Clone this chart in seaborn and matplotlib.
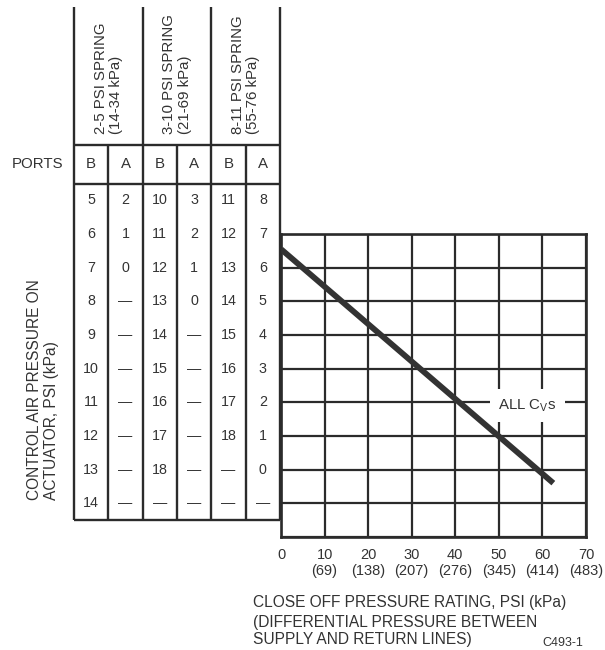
import matplotlib
matplotlib.use("Agg")
import matplotlib.pyplot as plt
import seaborn as sns
import pandas as pd

# Table headers
spring_labels = ["2-5 PSI SPRING\n(14-34 kPa)",
                 "3-10 PSI SPRING\n(21-69 kPa)",
                 "8-11 PSI SPRING\n(55-76 kPa)"]
port_labels = ["B", "A", "B", "A", "B", "A"]

# Control air pressure on actuator (psi) per spring / port, "—" = n/a
spring_2_5_b = ["5", "6", "7", "8", "9", "10", "11", "12", "13", "14"]
spring_2_5_a = ["2", "1", "0", "—", "—", "—", "—", "—", "—", "—"]
spring_3_10_b = ["10", "11", "12", "13", "14", "15", "16", "17", "18", "—"]
spring_3_10_a = ["3", "2", "1", "0", "—", "—", "—", "—", "—", "—"]
spring_8_11_b = ["11", "12", "13", "14", "15", "16", "17", "18", "—", "—"]
spring_8_11_a = ["8", "7", "6", "5", "4", "3", "2", "1", "0", "—"]
port_columns = [spring_2_5_b, spring_2_5_a, spring_3_10_b,
                spring_3_10_a, spring_8_11_b, spring_8_11_a]

# chart's vertical scale follows the 8-11 spring port A column
row_levels = [8, 7, 6, 5, 4, 3, 2, 1, 0, -1]

# Close-off curve (all Cv's)
close_off_psi = [0, 62.5]
control_level = [6.55, -0.4]

# x axis ticks
x_ticks = [0, 10, 20, 30, 40, 50, 60, 70]
x_kpa = ["", "(69)", "(138)", "(207)", "(276)", "(345)", "(414)", "(483)"]

sns.set_theme(style="white")
plt.rcParams['font.family'] = ['Liberation Sans', 'DejaVu Sans']
text_color = "#333333"
line_color = "#2b2b2b"

W, H = 605, 650
fig = plt.figure(figsize=(W / 100, H / 100), dpi=100)

# ---- chart ----
ax = fig.add_axes([281 / W, 113 / H, 305 / W, 303 / H])
curve = pd.DataFrame({"psi": close_off_psi, "level": control_level})
sns.lineplot(data=curve, x="psi", y="level", ax=ax, color="#333333",
             lw=4.2, solid_capstyle="butt", zorder=4)
ax.set_xlim(0, 70)
ax.set_ylim(-2, 7)
ax.set_xticks(x_ticks)
ax.set_xticklabels([f"{p}\n{k}" for p, k in zip(x_ticks, x_kpa)],
                   fontsize=10.5, color=text_color, va="top")
ax.set_yticks(range(-2, 8))
ax.tick_params(axis="x", length=0, pad=8)
ax.tick_params(axis="y", length=0, labelleft=False)
ax.grid(True, color=line_color, lw=1.6)
ax.set_axisbelow(True)
for sp in ax.spines.values():
    sp.set_color(line_color)
    sp.set_linewidth(1.9)
ax.set_xlabel("")
ax.set_ylabel("")
ax.text(56.5, 1.9, r"ALL C$_\mathregular{V}$s", ha="center", va="center",
        fontsize=10.8, color=text_color, zorder=5,
        bbox=dict(boxstyle="square,pad=0.55", fc="white", ec="none"))

# ---- table ----
tab = fig.add_axes([74 / W, 130 / H, 206 / W, 513 / H])
tab.set_xlim(0, 6)
tab.set_ylim(-1.5, 13.75)
tab.axis("off")
ports_top = 9.65
kw = dict(color=line_color, lw=1.7, clip_on=False)
tab.vlines([0, 2, 4, 6], -1.5, 13.75, **kw)
tab.vlines([1, 3, 5], -1.5, ports_top, **kw)
tab.hlines([-1.5, 8.5, ports_top], 0, 6, **kw)

for j, col in enumerate(port_columns):
    for lvl, v in zip(row_levels, col):
        tab.text(j + 0.5, lvl, v, ha="center", va="center",
                 fontsize=10.3, color=text_color)
    tab.text(j + 0.5, (8.5 + ports_top) / 2, port_labels[j], ha="center",
             va="center", fontsize=10.8, color=text_color)
tab.text(-1.05, (8.5 + ports_top) / 2, "PORTS", ha="center", va="center",
         fontsize=10.8, color=text_color)
for k, lab in enumerate(spring_labels):
    tab.text(2 * k + 1, ports_top + 0.33, lab, rotation=90, ha="center",
             va="bottom", multialignment="left", linespacing=1.1,
             fontsize=10.8, color=text_color)

# ---- labels ----
fig.text(43 / W, 1 - 500 / H, "CONTROL AIR PRESSURE ON\nACTUATOR, PSI (kPa)",
         rotation=90, ha="center", va="bottom", multialignment="left",
         linespacing=1.1, fontsize=11.2, color=text_color)
fig.text(253 / W, 1 - 603 / H, "CLOSE OFF PRESSURE RATING, PSI (kPa)",
         ha="left", va="center", fontsize=11.2, color=text_color)
fig.text(253 / W, 1 - 631 / H,
         "(DIFFERENTIAL PRESSURE BETWEEN\nSUPPLY AND RETURN LINES)",
         ha="left", va="center", linespacing=1.2, fontsize=11.2,
         color=text_color)
fig.text(563 / W, 1 - 643 / H, "C493-1", ha="center", va="center",
         fontsize=9, color=text_color)

fig.savefig("out.png", dpi=100, facecolor="white")
